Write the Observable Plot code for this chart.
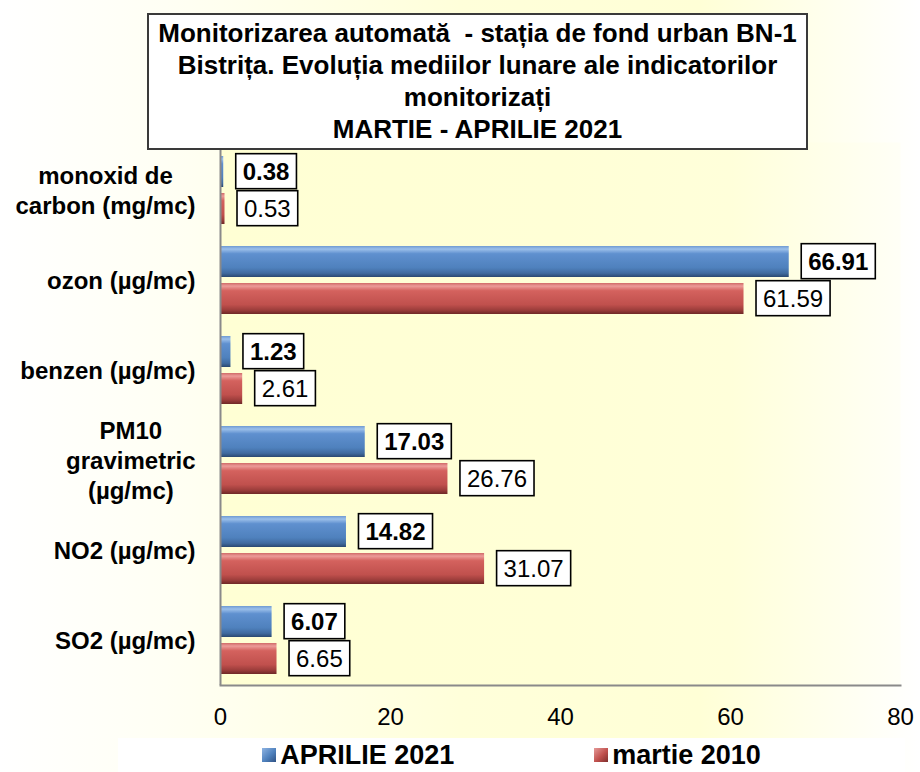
<!DOCTYPE html>
<html><head><meta charset="utf-8">
<script src="https://cdn.jsdelivr.net/npm/d3@7"></script>
<script src="https://cdn.jsdelivr.net/npm/@observablehq/plot@0.6"></script>
<style>
html,body{margin:0;padding:0;background:#fff;}
#wrap{position:relative;width:920px;height:772px;overflow:hidden;font-family:"Liberation Sans",Arial,sans-serif;
background:linear-gradient(to right,#ffffff 0%,#fffff4 18%,#ffffda 50%,#ffffd6 76%,#ffffff 100%);}
#chart{position:absolute;left:0;top:0;}
#title{position:absolute;left:147px;top:13px;width:661px;height:137px;box-sizing:border-box;border:2px solid #3a3a3a;background:#fff;text-align:center;font-weight:bold;font-size:26px;line-height:32px;padding-top:2px;color:#000;}
#legend{position:absolute;left:118px;top:738px;width:787px;height:34px;background:#fff;display:flex;justify-content:center;align-items:center;gap:140px;font-weight:bold;font-size:27px;color:#000;}
.item{display:flex;align-items:center;}
.sw{width:14px;height:14px;margin-right:4px;}
</style></head><body>
<div id="wrap">
<div id="chart"></div>
<div id="title"></div>
<div id="legend"></div>
</div>
<script>
const titleLines = ["Monitorizarea automată  - stația de fond urban BN-1", "Bistrița. Evoluția mediilor lunare ale indicatorilor", "monitorizați", "MARTIE - APRILIE 2021"];
const categories = ["monoxid de\ncarbon (mg/mc)", "ozon (µg/mc)", "benzen (µg/mc)", "PM10\ngravimetric\n(µg/mc)", "NO2 (µg/mc)", "SO2 (µg/mc)"];
const aprilie2021 = [0.38, 66.91, 1.23, 17.03, 14.82, 6.07];
const martie2010 = [0.53, 61.59, 2.61, 26.76, 31.07, 6.65];
const seriesNames = ["APRILIE 2021", "martie 2010"];
const xTicks = [0, 20, 40, 60, 80];

document.getElementById("title").innerHTML = titleLines.map(s => s.replace(/  /g, " &nbsp;")).join("<br>");

const rows = categories.map((c, i) => ({cat: c, apr: aprilie2021[i], mar: martie2010[i]}));
const fmt = d3.format(".2f");

const plot = Plot.plot({
  width: 920, height: 738,
  marginTop: 142, marginBottom: 53, marginLeft: 220, marginRight: 20,
  style: {background: "transparent", fontFamily: "Liberation Sans, Arial, sans-serif", color: "#000", overflow: "visible"},
  x: {domain: [0, 80], axis: null},
  y: {domain: categories, padding: 0, axis: null},
  marks: [
    Plot.frame({fill: "url(#plotBg)", stroke: "none"}),
    Plot.barX(rows, {y: "cat", x: "apr", fill: "url(#gBlue)", insetTop: 12, insetBottom: 47}),
    Plot.barX(rows, {y: "cat", x: "mar", fill: "url(#gRed)", insetTop: 49, insetBottom: 10}),
    Plot.ruleX([0], {stroke: "#8a8a8a", strokeWidth: 2}),
    Plot.frame({anchor: "bottom", stroke: "#8a8a8a", strokeWidth: 2}),
    Plot.text(rows, {y: "cat", x: "apr", text: d => fmt(d.apr), textAnchor: "start", dx: 19, dy: -17.5, fontSize: 24, fontWeight: "bold", fill: "#000"}),
    Plot.text(rows, {y: "cat", x: "mar", text: d => fmt(d.mar), textAnchor: "start", dx: 19, dy: 19.5, fontSize: 24, fill: "#000"}),
    Plot.axisX({ticks: xTicks, tickSize: 0, tickPadding: 22, fontSize: 24, tickFormat: d => String(d), label: null}),
    Plot.axisY({tickSize: 0, tickPadding: 25, fontSize: 24, fontWeight: "bold", lineHeight: 1.25, label: null})
  ]
});
document.getElementById("chart").appendChild(plot);

// gradients
const NS = "http://www.w3.org/2000/svg";
const defs = document.createElementNS(NS, "defs");
function grad(id, stops, horizontal) {
  const g = document.createElementNS(NS, "linearGradient");
  g.setAttribute("id", id);
  g.setAttribute("x1", "0"); g.setAttribute("y1", "0");
  g.setAttribute("x2", horizontal ? "1" : "0"); g.setAttribute("y2", horizontal ? "0" : "1");
  stops.forEach(([o, c]) => {
    const s = document.createElementNS(NS, "stop");
    s.setAttribute("offset", o); s.setAttribute("stop-color", c);
    g.appendChild(s);
  });
  defs.appendChild(g);
}
grad("gBlue", [[0, "#6f9bd3"], [0.1, "#9cc0ea"], [0.25, "#5f90cf"], [0.7, "#4f81bd"], [0.88, "#3f6a9e"], [1, "#2a4870"]]);
grad("gRed", [[0, "#d06b68"], [0.1, "#ec9c99"], [0.25, "#d4625e"], [0.7, "#c0504d"], [0.88, "#9a3c3a"], [1, "#6e2826"]]);
grad("plotBg", [[0, "#ffffd4"], [0.5, "#ffffd6"], [0.75, "#ffffda"], [1, "#fffff6"]], true);
plot.insertBefore(defs, plot.firstChild);

// label boxes
plot.querySelectorAll('g[aria-label="text"] text').forEach(t => {
  const b = t.getBBox();
  const r = document.createElementNS(NS, "rect");
  r.setAttribute("x", b.x - 7); r.setAttribute("y", b.y - 4);
  r.setAttribute("width", b.width + 14); r.setAttribute("height", b.height + 8);
  r.setAttribute("fill", "#fff"); r.setAttribute("stroke", "#000"); r.setAttribute("stroke-width", "1.6");
  const tr = t.getAttribute("transform");
  if (tr) r.setAttribute("transform", tr);
  t.parentNode.insertBefore(r, t);
});

// center multi-line category labels
plot.querySelectorAll('g[aria-label="y-axis tick label"] text').forEach(t => {
  const spans = t.querySelectorAll("tspan");
  if (spans.length > 1) {
    const w = d3.max(Array.from(spans), s => s.getComputedTextLength());
    t.setAttribute("text-anchor", "middle");
    spans.forEach(s => s.setAttribute("x", -w / 2));
  }
});

// legend
const lg = document.getElementById("legend");
lg.innerHTML = seriesNames.map((s, i) =>
  `<div class="item"><div class="sw" style="background:${i === 0 ? "linear-gradient(135deg,#8fb4e3,#4f81bd 55%,#2f5284)" : "linear-gradient(135deg,#e59a98,#c0504d 55%,#7e2f2d)"}"></div><span>${s}</span></div>`
).join("");
</script>
</body></html>
